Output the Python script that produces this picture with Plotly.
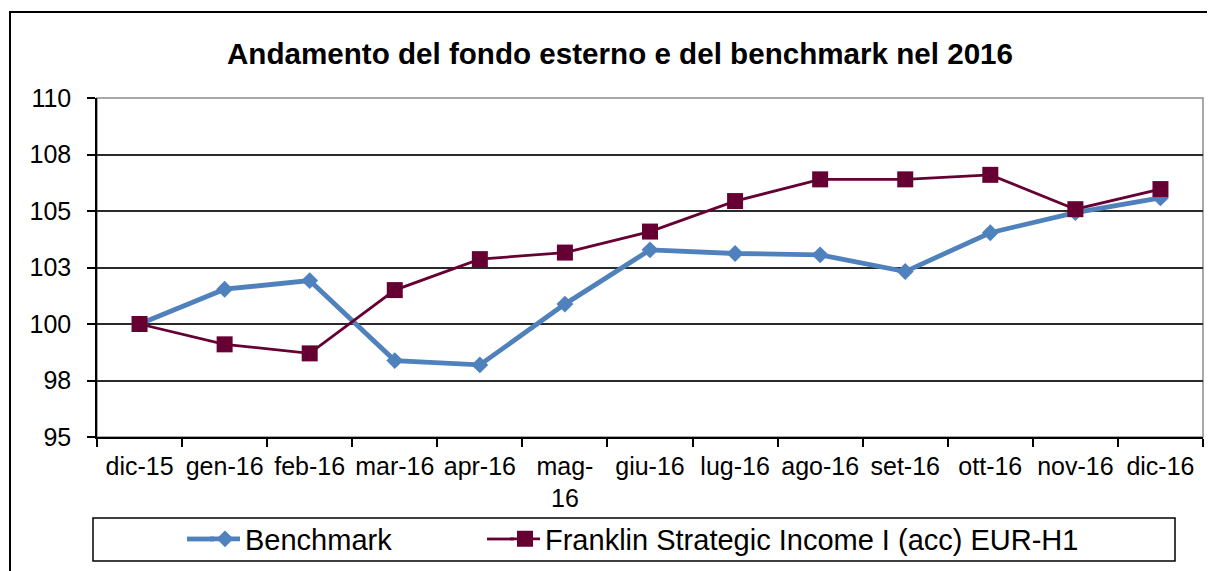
import plotly.graph_objects as go

categories = ["dic-15", "gen-16", "feb-16", "mar-16", "apr-16", "mag-16", "giu-16",
              "lug-16", "ago-16", "set-16", "ott-16", "nov-16", "dic-16"]
category_labels = ["dic-15", "gen-16", "feb-16", "mar-16", "apr-16", "mag-<br>16", "giu-16",
                   "lug-16", "ago-16", "set-16", "ott-16", "nov-16", "dic-16"]
benchmark = [100.0, 101.54, 101.92, 98.38, 98.19, 100.88, 103.28,
             103.12, 103.06, 102.32, 104.04, 104.93, 105.58]
franklin = [100.0, 99.1, 98.7, 101.5, 102.87, 103.16, 104.09,
            105.44, 106.4, 106.4, 106.6, 105.08, 105.97]
y_tickvals = [95, 97.5, 100, 102.5, 105, 107.5, 110]
y_ticktext = ["95", "98", "100", "103", "105", "108", "110"]

title_text = "Andamento del fondo esterno e del benchmark nel 2016"
name_bench = "Benchmark"
name_fund = "Franklin Strategic Income I (acc) EUR-H1"

BLUE = "#4F81BD"
MAROON = "#660033"
FONT = "Liberation Sans, Arial, sans-serif"
OFF = 8  # page body margin
W, H = 1215 - OFF, 571 - OFF
# plot area in page pixels: x 97..1203, y 98..437
ML, MR, MT, MB = 97 - OFF, W - (1203 - OFF), 98 - OFF, H - (437 - OFF)
PW = W - ML - MR
PH = H - MT - MB


def px_x(x):
    return (x - OFF - ML) / PW


def px_y(y):
    return (H - MB - (y - OFF)) / PH


def cx(x):
    return (x - OFF) / W


def cy(y):
    return (H - (y - OFF)) / H


fig = go.Figure()
fig.add_trace(go.Scatter(
    x=categories, y=benchmark, name=name_bench, mode="lines+markers",
    line=dict(color=BLUE, width=4.8),
    marker=dict(symbol="diamond", size=13, color=BLUE),
    legendwidth=255,
))
fig.add_trace(go.Scatter(
    x=categories, y=franklin, name=name_fund, mode="lines+markers",
    line=dict(color=MAROON, width=2.8),
    marker=dict(symbol="square", size=16, color=MAROON),
))

LEG_Y = 539
shapes = [
    # outer chart border
    dict(type="rect", xref="paper", yref="paper",
         x0=px_x(10), x1=px_x(1240), y0=px_y(600), y1=px_y(12),
         line=dict(color="black", width=2), fillcolor="rgba(0,0,0,0)", layer="above"),
    # plot area border (gray)
    dict(type="rect", xref="paper", yref="paper",
         x0=0, x1=1, y0=0, y1=1,
         line=dict(color="#8c8c8c", width=1.5), fillcolor="rgba(0,0,0,0)", layer="below"),
    # legend box
    dict(type="rect", xref="paper", yref="paper",
         x0=px_x(93), x1=px_x(1175), y0=px_y(561), y1=px_y(518),
         line=dict(color="black", width=1.5), fillcolor="rgba(0,0,0,0)", layer="above"),
    # longer legend key lines (Excel style)
    dict(type="line", xref="paper", yref="paper",
         x0=px_x(187), x1=px_x(214), y0=px_y(LEG_Y), y1=px_y(LEG_Y),
         line=dict(color=BLUE, width=4.8), layer="above"),
    dict(type="line", xref="paper", yref="paper",
         x0=px_x(487), x1=px_x(514), y0=px_y(LEG_Y), y1=px_y(LEG_Y),
         line=dict(color=MAROON, width=2.8), layer="above"),
]

fig.update_layout(
    width=W, height=H,
    margin=dict(l=ML, r=MR, t=MT, b=MB, pad=0, autoexpand=False),
    paper_bgcolor="white", plot_bgcolor="white",
    font=dict(family=FONT, color="black", size=25),
    title=dict(text="<b>" + title_text + "</b>", x=px_x(620), xref="paper", xanchor="center",
               y=cy(54), yref="container", yanchor="middle",
               font=dict(family=FONT, size=29.6, color="black")),
    showlegend=True,
    legend=dict(orientation="h", x=cx(205), xref="container", xanchor="left",
                y=cy(LEG_Y), yref="container", yanchor="middle",
                font=dict(family=FONT, size=29, color="black"),
                bgcolor="rgba(0,0,0,0)", borderwidth=0, itemsizing="trace"),
    shapes=shapes,
    xaxis=dict(type="category", categoryorder="array", categoryarray=categories,
               range=[-0.5, len(categories) - 0.5],
               tickmode="array", tickvals=categories, ticktext=category_labels,
               tickson="boundaries", ticks="outside", ticklen=8, tickwidth=1.5, tickcolor="black",
               tickangle=0, automargin=False,
               showline=True, linecolor="black", linewidth=1.5, showgrid=False,
               tickfont=dict(family=FONT, size=25, color="black"), ticklabelstandoff=6,
               fixedrange=True),
    yaxis=dict(range=[95, 110], tickmode="array", tickvals=y_tickvals, ticktext=y_ticktext,
               ticks="outside", ticklen=8, tickwidth=1.5, tickcolor="black",
               showline=True, linecolor="black", linewidth=1.5, automargin=False,
               showgrid=True, gridcolor="#2a2a2a", gridwidth=1.5, zeroline=False,
               tickfont=dict(family=FONT, size=25, color="black"), ticklabelstandoff=11,
               fixedrange=True),
)

fig.write_html("out.html")
